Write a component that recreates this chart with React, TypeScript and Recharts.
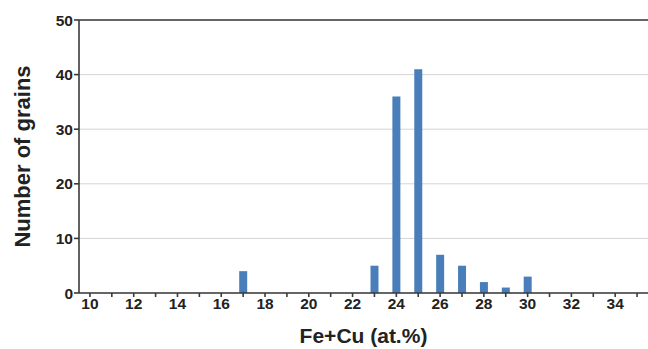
import { BarChart, Bar, XAxis, YAxis, CartesianGrid, ReferenceLine } from "recharts";

// composition bins (at.% Fe+Cu), one per integer
const bins = [10, 11, 12, 13, 14, 15, 16, 17, 18, 19, 20, 21, 22, 23, 24, 25, 26, 27, 28, 29, 30, 31, 32, 33, 34, 35];
// number of grains in each bin
const grains = [0, 0, 0, 0, 0, 0, 0, 4, 0, 0, 0, 0, 0, 5, 36, 41, 7, 5, 2, 1, 3, 0, 0, 0, 0, 0];
const yTicks = [0, 10, 20, 30, 40, 50];

const data = bins.map((b, i) => ({ bin: b, count: grains[i] }));

const FONT = "'Liberation Sans', Arial, sans-serif";
const AXIS = "#3a3a3a";

export default function App() {
  return (
    <div style={{ position: "absolute", left: 0, top: 0, background: "#fff" }}>
      <BarChart
        width={648}
        height={349}
        data={data}
        margin={{ top: 20, right: 0, left: 0, bottom: 0 }}
        barCategoryGap={0}
      >
        <CartesianGrid vertical={false} stroke="#d4d4d4" strokeWidth={1} />
        <XAxis
          dataKey="bin"
          interval={0}
          height={56}
          tickFormatter={(v: number) => (v % 2 === 0 ? String(v) : "")}
          tick={{ fontFamily: FONT, fontSize: 15.5, fontWeight: 700, fill: "#222" }}
          tickSize={4}
          tickMargin={1}
          stroke={AXIS}
          strokeWidth={1.6}
          label={{
            value: "Fe+Cu (at.%)",
            position: "insideBottom",
            offset: 6,
            style: { fontFamily: FONT, fontSize: 21, fontWeight: 700, fill: "#222" },
          }}
        />
        <YAxis
          domain={[0, 50]}
          ticks={yTicks}
          width={79}
          tick={{ fontFamily: FONT, fontSize: 15.5, fontWeight: 700, fill: "#222" }}
          tickSize={5}
          tickMargin={1}
          stroke={AXIS}
          strokeWidth={1.6}
          label={{
            value: "Number of grains",
            angle: -90,
            position: "insideLeft",
            offset: 22,
            style: { fontFamily: FONT, fontSize: 22, fontWeight: 700, fill: "#222", textAnchor: "middle" },
          }}
        />
        <ReferenceLine y={50} stroke={AXIS} strokeWidth={1.6} />
        <Bar dataKey="count" fill="#4a7ebb" barSize={8} isAnimationActive={false} />
      </BarChart>
    </div>
  );
}
